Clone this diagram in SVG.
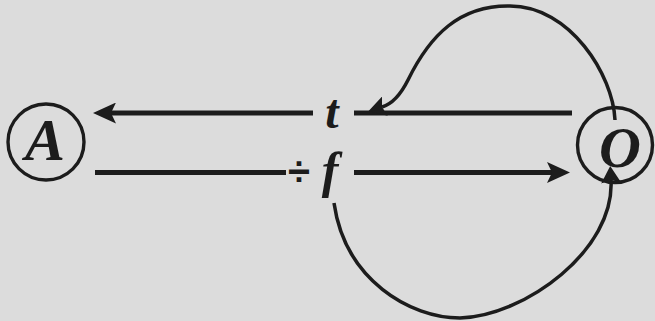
<svg xmlns="http://www.w3.org/2000/svg" width="655" height="321" viewBox="0 0 655 321">
<style>
.node{fill:none;stroke:#1c1c1c;stroke-width:3.4}
.bar{fill:none;stroke:#1c1c1c;stroke-width:5}
.curve{fill:none;stroke:#1c1c1c;stroke-width:3.5}
.lbl{font-family:"Liberation Serif","DejaVu Serif",serif;font-style:italic;font-weight:bold;fill:#1c1c1c;text-anchor:middle}
.op{font-family:"Liberation Sans","DejaVu Sans",sans-serif;font-weight:bold;fill:#1c1c1c;text-anchor:middle}
</style>
<defs>
<marker id="big" markerUnits="userSpaceOnUse" markerWidth="23" markerHeight="21" viewBox="0 0 23 21" refX="5" refY="10.5" orient="auto">
<path d="M0,0 L23,10.5 L0,21 L5,10.5 Z" fill="#1c1c1c"/>
</marker>
<marker id="small" markerUnits="userSpaceOnUse" markerWidth="17" markerHeight="20" viewBox="0 0 17 20" refX="3" refY="10" orient="auto">
<path d="M0,0 L17,10 L0,20 L3,10 Z" fill="#1c1c1c"/>
</marker>
</defs>
<rect x="0" y="0" width="655" height="321" fill="#dcdcdc"/>
<g id="connectors">
<path class="bar" d="M572,113 H354"/>
<path class="bar" d="M313,113 H111" marker-end="url(#big)"/>
<path class="bar" d="M95,172.5 H286"/>
<path class="bar" d="M354,172.5 H552" marker-end="url(#big)"/>
<path class="curve" d="M615,120 C613,75 570,6 510,6 C460,5 430,35 408,80 C400,96 392,104 382,107" marker-end="url(#small)"/>
<path class="curve" d="M334,203 C345,280 410,318 460,318 C525,316 615,250 611,180" marker-end="url(#small)"/>
</g>
<g id="node-A">
<circle class="node" cx="46" cy="142" r="38"/>
<text class="lbl" x="45" y="160" font-size="60">A</text>
</g>
<g id="node-O">
<circle class="node" cx="615" cy="145" r="37.5"/>
<text class="lbl" x="620" y="167" font-size="58">O</text>
</g>
<g id="label-t">
<text class="lbl" x="332" y="128" font-size="48">t</text>
</g>
<g id="label-f">
<text class="op" x="299" y="185" font-size="40">÷</text>
<text class="lbl" x="330" y="187" font-size="50">f</text>
</g>
</svg>
